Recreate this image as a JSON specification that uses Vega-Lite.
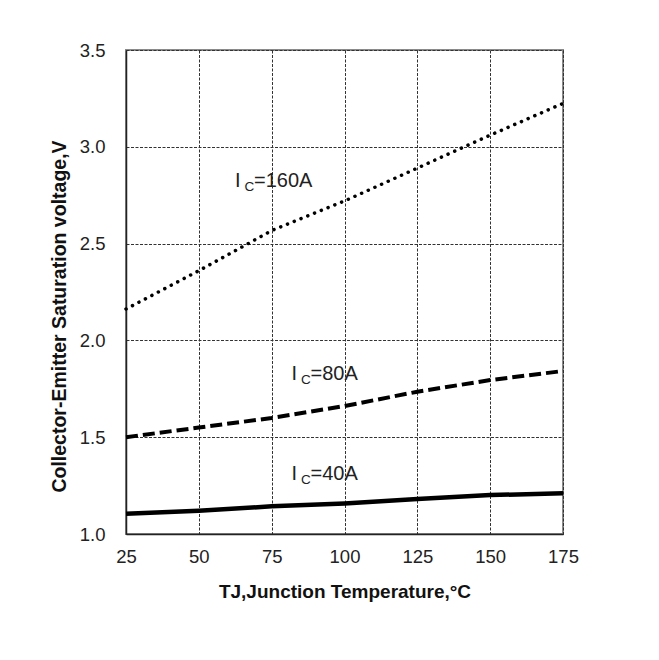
{
  "$schema": "https://vega.github.io/schema/vega-lite/v6.json",
  "width": 437,
  "height": 484,
  "autosize": {"type": "none"},
  "padding": {"left": 126, "top": 50, "right": 96, "bottom": 126},
  "background": "white",
  "config": {
    "font": "Liberation Sans",
    "view": {"stroke": "#8a8a8a", "strokeWidth": 2},
    "axis": {
      "grid": true,
      "gridColor": "#333",
      "gridDash": [3, 1.5],
      "gridWidth": 1,
      "gridOpacity": 1,
      "ticks": false,
      "domain": true,
      "domainColor": "#222",
      "domainWidth": 1.5,
      "labelFlush": false,
      "labelFont": "Liberation Sans",
      "labelFontSize": 18.5,
      "labelColor": "#222",
      "titleFont": "Liberation Sans",
      "titleFontWeight": "bold",
      "titleColor": "#111"
    }
  },
  "data": {
    "values": [
      {"T": 25, "Vce": 1.105, "Ic": "40A"},
      {"T": 50, "Vce": 1.12, "Ic": "40A"},
      {"T": 75, "Vce": 1.143, "Ic": "40A"},
      {"T": 100, "Vce": 1.158, "Ic": "40A"},
      {"T": 125, "Vce": 1.181, "Ic": "40A"},
      {"T": 150, "Vce": 1.201, "Ic": "40A"},
      {"T": 175, "Vce": 1.21, "Ic": "40A"},
      {"T": 25, "Vce": 1.5, "Ic": "80A"},
      {"T": 50, "Vce": 1.55, "Ic": "80A"},
      {"T": 75, "Vce": 1.599, "Ic": "80A"},
      {"T": 100, "Vce": 1.661, "Ic": "80A"},
      {"T": 125, "Vce": 1.735, "Ic": "80A"},
      {"T": 150, "Vce": 1.795, "Ic": "80A"},
      {"T": 175, "Vce": 1.842, "Ic": "80A"},
      {"T": 25, "Vce": 2.162, "Ic": "160A"},
      {"T": 50, "Vce": 2.36, "Ic": "160A"},
      {"T": 75, "Vce": 2.567, "Ic": "160A"},
      {"T": 100, "Vce": 2.72, "Ic": "160A"},
      {"T": 125, "Vce": 2.89, "Ic": "160A"},
      {"T": 150, "Vce": 3.06, "Ic": "160A"},
      {"T": 175, "Vce": 3.224, "Ic": "160A"}
    ]
  },
  "encoding": {
    "x": {
      "field": "T",
      "type": "quantitative",
      "scale": {"domain": [25, 175], "nice": false, "zero": false},
      "axis": {
        "values": [25, 50, 75, 100, 125, 150, 175],
        "labelPadding": 13,
        "title": "TJ,Junction Temperature,°C",
        "titleFontSize": 19,
        "titlePadding": 17
      }
    },
    "y": {
      "field": "Vce",
      "type": "quantitative",
      "scale": {"domain": [1, 3.5], "nice": false, "zero": false},
      "axis": {
        "values": [1, 1.5, 2, 2.5, 3, 3.5],
        "format": ".1f",
        "labelPadding": 21,
        "title": "Collector-Emitter Saturation voltage,V",
        "titleFontSize": 19.5,
        "titlePadding": 10,
        "titleY": 266
      }
    }
  },
  "layer": [
    {
      "transform": [{"filter": "datum.Ic === '40A'"}],
      "mark": {"type": "line", "color": "#000", "strokeWidth": 4.5}
    },
    {
      "transform": [{"filter": "datum.Ic === '80A'"}],
      "mark": {"type": "line", "color": "#000", "strokeWidth": 4, "strokeDash": [12, 5]}
    },
    {
      "transform": [{"filter": "datum.Ic === '160A'"}],
      "mark": {"type": "line", "color": "#000", "strokeWidth": 3.5, "strokeDash": [0.1, 7.2], "strokeCap": "round"}
    },
    {
      "data": {
        "values": [
          {"T": 62.4, "Vce": 2.79, "rest": "=160A"},
          {"T": 81.8, "Vce": 1.795, "rest": "=80A"},
          {"T": 81.8, "Vce": 1.279, "rest": "=40A"}
        ]
      },
      "layer": [
        {
          "mark": {"type": "text", "text": "I", "align": "left", "baseline": "alphabetic", "fontSize": 20, "color": "#222"}
        },
        {
          "mark": {"type": "text", "text": "C", "align": "left", "baseline": "alphabetic", "fontSize": 13.5, "dx": 9.5, "dy": 4, "color": "#222"}
        },
        {
          "mark": {"type": "text", "align": "left", "baseline": "alphabetic", "fontSize": 20, "dx": 19, "color": "#222"},
          "encoding": {"text": {"field": "rest"}}
        }
      ]
    }
  ]
}
